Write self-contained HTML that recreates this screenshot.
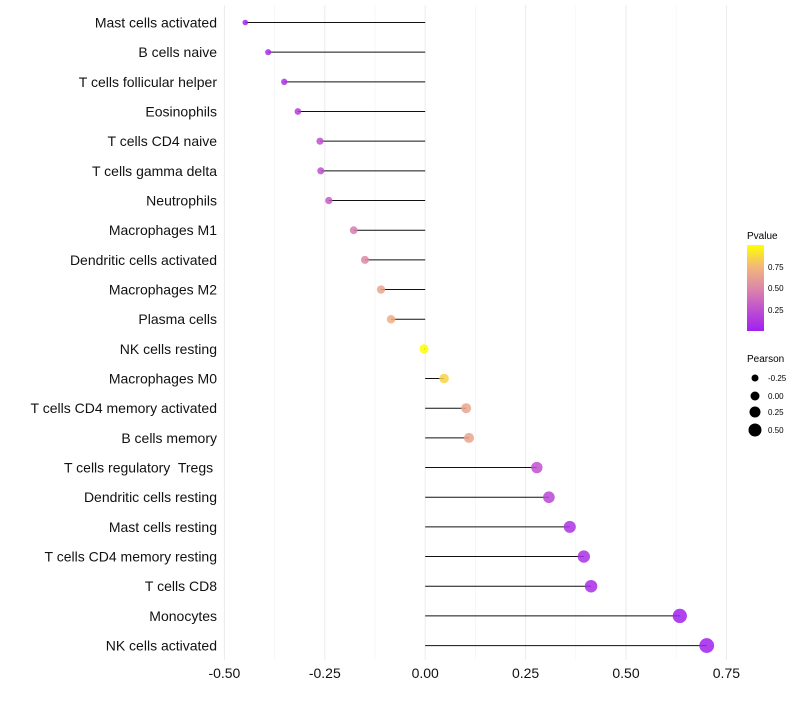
<!DOCTYPE html>
<html><head><meta charset="utf-8"><style>
body{margin:0;background:#fff;font-family:"Liberation Sans",sans-serif}
text{white-space:pre}
</style></head><body>
<svg id="c" width="800" height="700" xmlns="http://www.w3.org/2000/svg">
<defs><linearGradient id="pg" x1="0" y1="1" x2="0" y2="0">
<stop offset="0" stop-color="#a020f0"/><stop offset="0.25" stop-color="#c050d0"/><stop offset="0.5" stop-color="#dc88a8"/><stop offset="0.75" stop-color="#f2b878"/><stop offset="1" stop-color="#ffff00"/></linearGradient></defs>
<g id="grid"></g><g id="marks"></g><g id="ylab"></g><g id="xlab"></g>
<g>
<text x="747" y="239" font-size="10">Pvalue</text>
<rect x="747" y="245" width="17" height="86" fill="url(#pg)"/>
<text x="768" y="270" font-size="8">0.75</text><text x="768" y="291" font-size="8">0.50</text><text x="768" y="313" font-size="8">0.25</text>
</g>
<g>
<text x="747" y="362" font-size="10">Pearson</text>
<circle cx="755" cy="378" r="3.5"/><text x="768" y="381" font-size="8">-0.25</text>
<circle cx="755" cy="396" r="4.5"/><text x="768" y="399" font-size="8">0.00</text>
<circle cx="755" cy="412" r="5.5"/><text x="768" y="415" font-size="8">0.25</text>
<circle cx="755" cy="430" r="6.5"/><text x="768" y="433" font-size="8">0.50</text>
</g>
</svg>
<script>
const categories=["Mast cells activated","B cells naive","T cells follicular helper","Eosinophils","T cells CD4 naive","T cells gamma delta","Neutrophils","Macrophages M1","Dendritic cells activated","Macrophages M2","Plasma cells","NK cells resting","Macrophages M0","T cells CD4 memory activated","B cells memory","T cells regulatory  Tregs ","Dendritic cells resting","Mast cells resting","T cells CD4 memory resting","T cells CD8","Monocytes","NK cells activated"];
const pearson=[-0.448,-0.391,-0.351,-0.317,-0.262,-0.26,-0.24,-0.178,-0.15,-0.11,-0.085,-0.003,0.047,0.102,0.109,0.278,0.308,0.36,0.395,0.413,0.634,0.701];
const pvalue=[0.03,0.07,0.1,0.15,0.25,0.25,0.3,0.45,0.5,0.65,0.7,0.99,0.85,0.65,0.65,0.25,0.2,0.1,0.08,0.06,0.01,0.01];
const xticks=[-0.5,-0.25,0,0.25,0.5,0.75];
const NS="http://www.w3.org/2000/svg";
const x=v=>425.2+v*401.6;
const y=i=>22.5+i*29.67;
const stops=[[0,[160,32,240]],[0.25,[192,80,208]],[0.5,[220,136,168]],[0.75,[242,184,120]],[1,[255,255,0]]];
function col(p){for(let k=1;k<stops.length;k++){if(p<=stops[k][0]){const a=stops[k-1],b=stops[k],t=(p-a[0])/(b[0]-a[0]);return "rgb("+a[1].map((c,j)=>Math.round(c+(b[1][j]-c)*t)).join(",")+")";}}return "rgb(255,255,0)";}
function mk(t,at,par){const e=document.createElementNS(NS,t);for(const k in at)e.setAttribute(k,at[k]);document.getElementById(par).appendChild(e);return e;}
for(let v=-0.5;v<=0.751;v+=0.125){const major=Math.abs(v/0.25-Math.round(v/0.25))<1e-6;
const g=mk("line",{x1:x(v),x2:x(v),y1:5,y2:660,stroke:major?"#ebebeb":"#f4f4f4","stroke-width":major?1:0.7},"grid");

}
xticks.forEach(v=>{const t=mk("text",{x:x(v),y:678,"font-size":14,"text-anchor":"middle",fill:"#111"},"xlab");t.textContent=v.toFixed(2);

});
categories.forEach((c,i)=>{
const t=mk("text",{x:217,y:y(i)+5,"font-size":14,"text-anchor":"end",fill:"#111"},"ylab");t.textContent=c;


const l=mk("line",{x1:x(0),x2:x(pearson[i]),y1:y(i),y2:y(i),stroke:"#111","stroke-width":1},"marks");


const r=Math.max(1.5,4.6+4*pearson[i]);
const d=mk("circle",{cx:x(pearson[i]),cy:y(i),r:r,fill:col(pvalue[i]),"fill-opacity":0.85},"marks");


});
</script>
</body></html>
